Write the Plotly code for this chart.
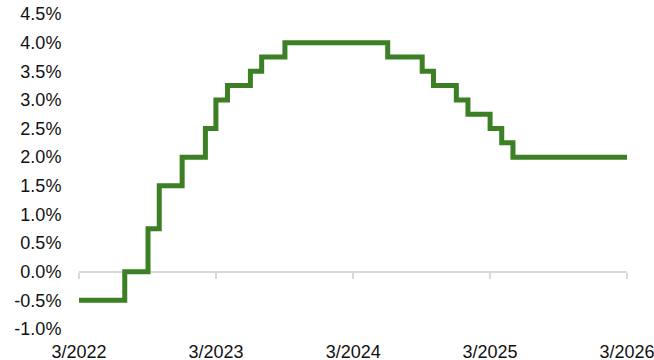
import plotly.graph_objects as go
import pandas as pd

# Monthly observations, Mar 2022 .. Mar 2026
months = pd.date_range("2022-03-01", periods=49, freq="MS")
rate = [
    -0.5, -0.5, -0.5, -0.5, 0.0, 0.0, 0.75, 1.5, 1.5, 2.0,   # Mar22-Dec22
    2.0, 2.5, 3.0, 3.25, 3.25, 3.5, 3.75, 3.75, 4.0, 4.0,    # Jan23-Oct23
    4.0, 4.0, 4.0, 4.0, 4.0, 4.0, 4.0, 3.75, 3.75, 3.75,     # Nov23-Aug24
    3.5, 3.25, 3.25, 3.0, 2.75, 2.75, 2.5, 2.25, 2.0, 2.0,   # Sep24-Jun25
    2.0, 2.0, 2.0, 2.0, 2.0, 2.0, 2.0, 2.0, 2.0,             # Jul25-Mar26
]

y_tickvals = [-1.0, -0.5, 0.0, 0.5, 1.0, 1.5, 2.0, 2.5, 3.0, 3.5, 4.0, 4.5]
y_ticktext = ["-1.0%", "-0.5%", "0.0%", "0.5%", "1.0%", "1.5%", "2.0%",
              "2.5%", "3.0%", "3.5%", "4.0%", "4.5%"]
x_tickvals = ["2022-03-01", "2023-03-01", "2024-03-01", "2025-03-01", "2026-03-01"]
x_ticktext = ["3/2022", "3/2023", "3/2024", "3/2025", "3/2026"]

font = dict(family="Liberation Sans, Arial, sans-serif", size=18, color="#111111")

fig = go.Figure()
fig.add_trace(go.Scatter(
    x=months, y=rate, mode="lines", line_shape="hv",
    line=dict(color="#3d7f25", width=5), hoverinfo="skip", showlegend=False,
))
# invisible trace to drive the zero-line axis with ticks
fig.add_trace(go.Scatter(
    x=[months[0], months[-1]], y=[0, 0], xaxis="x2", mode="lines",
    line=dict(width=1, color="rgba(0,0,0,0)"), hoverinfo="skip", showlegend=False,
))

xrange = [months[0], months[-1]]
fig.update_layout(
    template="none",
    width=654, height=360,
    margin=dict(l=79, r=27, t=14, b=31, pad=0),
    paper_bgcolor="white", plot_bgcolor="white",
    font=font,
    xaxis=dict(
        type="date", range=xrange, tickvals=x_tickvals, ticktext=x_ticktext,
        showgrid=False, zeroline=False, showline=False, automargin=False,
        ticks="outside", ticklen=6, tickcolor="rgba(0,0,0,0)",
        tickfont=font, ticklabeloverflow="allow",
    ),
    xaxis2=dict(
        type="date", range=xrange, overlaying="x", anchor="free",
        position=1 / 5.5, tickvals=x_tickvals, showticklabels=False,
        showgrid=False, zeroline=False, showline=True, linecolor="#d9d9d9",
        linewidth=2, ticks="outside", ticklen=6, tickcolor="#d9d9d9", tickwidth=2,
        automargin=False, layer="below traces",
    ),
    yaxis=dict(
        range=[-1.0, 4.5], tickvals=y_tickvals, ticktext=y_ticktext,
        showgrid=False, zeroline=False, showline=False, automargin=False,
        ticks="outside", ticklen=13, tickcolor="rgba(0,0,0,0)",
        tickfont=font, ticklabeloverflow="allow",
    ),
)

fig.write_html("out.html", config={"displayModeBar": False},
               post_script="document.body.style.margin='0';document.body.style.overflow='hidden';")
